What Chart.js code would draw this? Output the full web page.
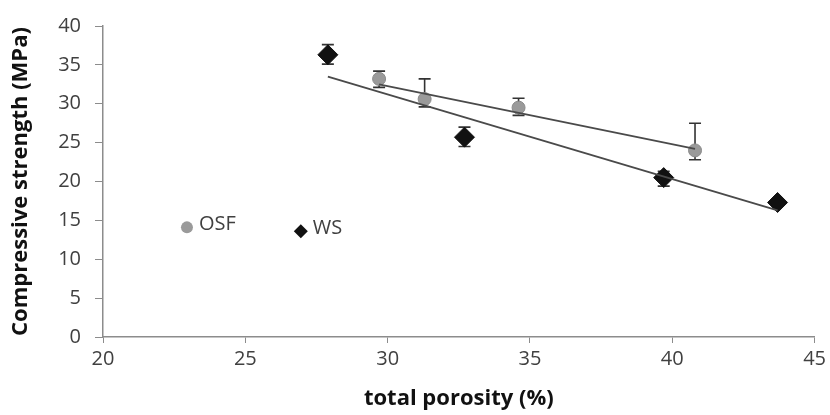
<!DOCTYPE html>
<html>
<head>
<meta charset="utf-8">
<script src="https://cdn.jsdelivr.net/npm/chart.js@4.4.1/dist/chart.umd.min.js"></script>
<style>
    html, body { margin: 0; padding: 0; background: #ffffff; }
    #chart_box { position: relative; width: 830px; height: 415px; }
</style>
</head>
<body>
<div id="chart_box"><canvas id="porosity_chart"></canvas></div>
<script>
// OSF samples
const osf_porosity = [29.7, 31.3, 34.6, 40.8];
const osf_strength = [33.2, 30.6, 29.5, 24.0];
const osf_err_plus = [1.0, 2.6, 1.2, 3.5];
const osf_err_minus = [1.1, 1.0, 1.0, 1.2];

// WS samples
const ws_porosity = [27.9, 32.7, 39.7, 43.7];
const ws_strength = [36.3, 25.7, 20.5, 17.3];
const ws_err_plus = [1.3, 1.3, 0.8, 0];
const ws_err_minus = [1.2, 1.2, 1.1, 0];

// linear trend lines (end points)
const osf_fit_x = [29.7, 40.8];
const osf_fit_y = [32.5, 24.2];
const ws_fit_x = [27.9, 43.7];
const ws_fit_y = [33.5, 16.3];

const x_ticks = [20, 25, 30, 35, 40, 45];
const y_ticks = [0, 5, 10, 15, 20, 25, 30, 35, 40];

const chart_palette = {
    osf_gray: '#9a9a9a',
    ws_black: '#111111',
    trend: '#4a4a4a',
    err: '#333333',
    axis: '#8c8c8c',
    text: '#404040',
    title: '#111111',
};

const chart_font = '"Open Sans", "Noto Sans", sans-serif';

function to_points(xs, ys) {
    return xs.map((x, i) => ({ x: x, y: ys[i] }));
}

const error_bar_plugin = {
    id: 'error_bars',
    beforeDatasetsDraw(chart) {
        const ctx = chart.ctx;
        const x_scale = chart.scales.x;
        const y_scale = chart.scales.y;
        ctx.save();
        ctx.strokeStyle = chart_palette.err;
        ctx.lineWidth = 1.6;
        chart.data.datasets.forEach((ds) => {
            if (!ds.err_plus) {
                return;
            }
            ds.data.forEach((pt, i) => {
                if (ds.err_plus[i] === 0 && ds.err_minus[i] === 0) {
                    return;
                }
                const px = x_scale.getPixelForValue(pt.x);
                const top = y_scale.getPixelForValue(pt.y + ds.err_plus[i]);
                const bottom = y_scale.getPixelForValue(pt.y - ds.err_minus[i]);
                ctx.beginPath();
                ctx.moveTo(px, top);
                ctx.lineTo(px, bottom);
                ctx.moveTo(px - 6, top);
                ctx.lineTo(px + 6, top);
                ctx.moveTo(px - 6, bottom);
                ctx.lineTo(px + 6, bottom);
                ctx.stroke();
            });
        });
        ctx.restore();
    },
};

const inside_legend_plugin = {
    id: 'inside_legend',
    afterDraw(chart, args, opts) {
        const ctx = chart.ctx;
        const x_scale = chart.scales.x;
        const y_scale = chart.scales.y;
        ctx.save();
        ctx.font = '20px ' + chart_font;
        ctx.textBaseline = 'middle';
        opts.items.forEach((item) => {
            const px = x_scale.getPixelForValue(item.at_x);
            const py = y_scale.getPixelForValue(item.at_y);
            ctx.fillStyle = item.color;
            ctx.beginPath();
            if (item.style === 'circle') {
                ctx.arc(px, py, 6, 0, Math.PI * 2);
            } else {
                ctx.moveTo(px, py - 7);
                ctx.lineTo(px + 7, py);
                ctx.lineTo(px, py + 7);
                ctx.lineTo(px - 7, py);
                ctx.closePath();
            }
            ctx.fill();
            ctx.fillStyle = chart_palette.text;
            ctx.fillText(item.text, px + 12, py - 3);
        });
        ctx.restore();
    },
};

new Chart(document.getElementById('porosity_chart').getContext('2d'), {
    type: 'scatter',
    data: {
        datasets: [
            {
                label: 'OSF trend',
                type: 'line',
                data: to_points(osf_fit_x, osf_fit_y),
                borderColor: chart_palette.trend,
                borderWidth: 1.8,
                pointRadius: 0,
                fill: false,
                order: 0,
            },
            {
                label: 'WS trend',
                type: 'line',
                data: to_points(ws_fit_x, ws_fit_y),
                borderColor: chart_palette.trend,
                borderWidth: 1.8,
                pointRadius: 0,
                fill: false,
                order: 0,
            },
            {
                label: 'OSF',
                data: to_points(osf_porosity, osf_strength),
                err_plus: osf_err_plus,
                err_minus: osf_err_minus,
                pointStyle: 'circle',
                pointRadius: 6.5,
                backgroundColor: chart_palette.osf_gray,
                borderColor: '#8a8a8a',
                borderWidth: 1,
                order: 1,
            },
            {
                label: 'WS',
                data: to_points(ws_porosity, ws_strength),
                err_plus: ws_err_plus,
                err_minus: ws_err_minus,
                pointStyle: 'rectRot',
                pointRadius: 10,
                backgroundColor: chart_palette.ws_black,
                borderColor: chart_palette.ws_black,
                borderWidth: 1,
                order: 1,
            },
        ],
    },
    options: {
        responsive: true,
        maintainAspectRatio: false,
        animation: false,
        layout: {
            padding: { top: 12, right: 0, bottom: 0, left: 0 },
        },
        plugins: {
            legend: { display: false },
            tooltip: { enabled: false },
            inside_legend: {
                items: [
                    { text: 'OSF', style: 'circle', color: chart_palette.osf_gray, at_x: 22.95, at_y: 14.1 },
                    { text: 'WS', style: 'diamond', color: chart_palette.ws_black, at_x: 26.95, at_y: 13.6 },
                ],
            },
        },
        scales: {
            x: {
                type: 'linear',
                min: 20,
                max: 45,
                afterBuildTicks: (scale) => {
                    scale.ticks = x_ticks.map((v) => ({ value: v }));
                },
                afterFit: (scale) => {
                    scale.height = 78;
                },
                ticks: {
                    color: chart_palette.text,
                    font: { family: chart_font, size: 20 },
                    padding: 4,
                    maxRotation: 0,
                },
                grid: {
                    drawOnChartArea: false,
                    drawTicks: true,
                    tickLength: 6,
                    color: chart_palette.axis,
                },
                border: { display: true, color: chart_palette.axis, width: 1.5 },
                title: {
                    display: true,
                    text: 'total porosity (%)',
                    color: chart_palette.title,
                    font: { family: chart_font, size: 22, weight: 'bold' },
                    padding: { top: 0, bottom: 3 },
                },
            },
            y: {
                type: 'linear',
                min: 0,
                max: 40,
                afterBuildTicks: (scale) => {
                    scale.ticks = y_ticks.map((v) => ({ value: v }));
                },
                afterFit: (scale) => {
                    scale.width = 103;
                },
                ticks: {
                    color: chart_palette.text,
                    font: { family: chart_font, size: 20 },
                    padding: 14,
                },
                grid: {
                    drawOnChartArea: false,
                    drawTicks: true,
                    tickLength: 8,
                    color: chart_palette.axis,
                },
                border: { display: true, color: chart_palette.axis, width: 1.5 },
                title: {
                    display: true,
                    text: 'Compressive strength (MPa)',
                    color: chart_palette.title,
                    font: { family: chart_font, size: 22, weight: 'bold' },
                    padding: { top: 8, bottom: 0 },
                },
            },
        },
    },
    plugins: [error_bar_plugin, inside_legend_plugin],
});
</script>
</body>
</html>
